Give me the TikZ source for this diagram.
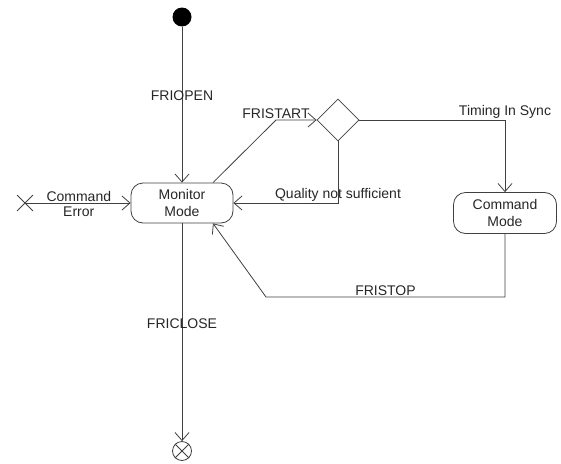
\documentclass[tikz,border=0pt]{standalone}
\usepackage{fontspec}
\setmainfont{Liberation Sans}
\usepackage{tikz}
\usetikzlibrary{positioning,arrows.meta,shapes.geometric,shapes.misc}
\definecolor{cline}{HTML}{404040}
\definecolor{ctext}{HTML}{262626}

\begin{document}
\begin{tikzpicture}[x=1pt, y=-1pt,
 every node/.style={font=\fontsize{14}{16.5}\selectfont, text=ctext},
 state/.style={rectangle, rounded corners=12pt, draw=cline, line width=0.8pt,
 align=center, minimum width=102pt, minimum height=40pt, inner sep=1pt},
 dec/.style={diamond, draw=cline, line width=0.8pt, minimum size=42pt, inner sep=0pt},
 init/.style={circle, fill=black, minimum size=19pt, inner sep=0pt},
 fin/.style={circle, draw=cline, line width=0.8pt, minimum size=19pt, inner sep=0pt},
 err/.style={cross out, draw=cline, line width=0.8pt, minimum size=15pt, inner sep=0pt},
 lbl/.style={inner sep=1pt},
 a/.style={-{Straight Barb[length=8pt,width=14pt]}, draw=cline, line width=0.8pt},
]
 \useasboundingbox (0,0) rectangle (561,463);

 \node[init] (S) at (182,17) {};
 \node[state] (MM) at (182,203) {Monitor\\Mode};
 \node[dec] (D) at (338,120) {};
 \node[state, minimum width=103pt, minimum height=41pt] (CM) at (505,213) {Command\\Mode};
 \node[err] (X) at (25,203) {};
 \node[fin] (F) at (182,451) {};
 \draw[cline, line width=0.8pt] (F.north west) -- (F.south east) (F.north east) -- (F.south west);

 \draw[a] (S) -- node[lbl, pos=0.44]{FRIOPEN} (MM);
 \draw[a] (X.center) -- node[lbl, midway, above, xshift=1pt]{Command} node[lbl, midway, below=2.5pt, xshift=1pt]{Error} (MM);
 \draw[a] ([xshift=31pt]MM.north) -- (276,120) node[lbl, above]{FRISTART} -- (D.west);
 \draw[a] (D.south) |- node[lbl, pos=0.5, above]{Quality not sufficient} (MM.east);
 \draw[a] (D.east) -| node[lbl, pos=0.5, above]{Timing In Sync} (CM.north);
 \draw[a] (CM.south) -- (505,297) -- node[lbl, midway, above]{FRISTOP} (266,297) -- ([xshift=31pt]MM.south);
 \draw[a] (MM) -- node[lbl, pos=0.46]{FRICLOSE} (F);
\end{tikzpicture}
\end{document}
